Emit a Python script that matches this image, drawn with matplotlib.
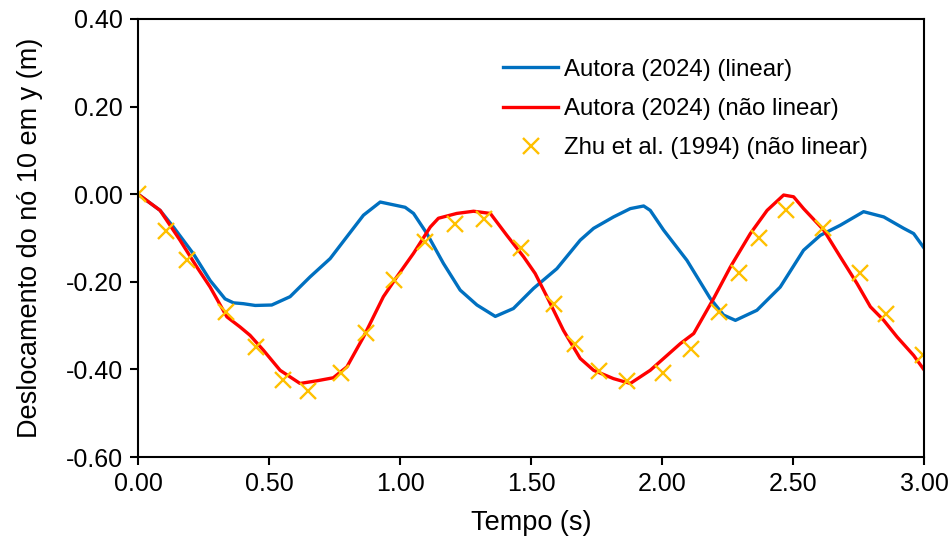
import matplotlib
matplotlib.use("Agg")
import matplotlib.pyplot as plt

plt.rcParams['font.family'] = ['Liberation Sans', 'DejaVu Sans']

# Autora (2024) - linear
t_lin = [0.000, 0.084, 0.135, 0.211, 0.275, 0.332, 0.364, 0.402, 0.447, 0.510,
         0.580, 0.656, 0.733, 0.797, 0.860, 0.924, 1.019, 1.051, 1.102, 1.165,
         1.229, 1.293, 1.363, 1.432, 1.509, 1.598, 1.687, 1.738, 1.814, 1.878,
         1.929, 1.954, 2.005, 2.094, 2.183, 2.234, 2.279, 2.361, 2.450, 2.539,
         2.603, 2.679, 2.768, 2.845, 2.921, 2.959, 3.000]
y_lin = [0.000, -0.037, -0.075, -0.136, -0.197, -0.239, -0.248, -0.250, -0.254, -0.253,
         -0.234, -0.189, -0.147, -0.097, -0.048, -0.018, -0.030, -0.044, -0.090, -0.158,
         -0.219, -0.253, -0.279, -0.261, -0.215, -0.170, -0.105, -0.078, -0.052, -0.033,
         -0.027, -0.037, -0.082, -0.151, -0.238, -0.276, -0.288, -0.265, -0.212, -0.128,
         -0.094, -0.071, -0.040, -0.052, -0.078, -0.090, -0.124]

# Autora (2024) - nao linear
t_nl = [0.000, 0.084, 0.160, 0.224, 0.275, 0.339, 0.389, 0.427, 0.478, 0.542,
        0.618, 0.682, 0.745, 0.797, 0.860, 0.936, 0.987, 1.051, 1.115, 1.146,
        1.216, 1.280, 1.344, 1.407, 1.471, 1.515, 1.560, 1.623, 1.687, 1.738,
        1.814, 1.878, 1.954, 2.005, 2.069, 2.120, 2.196, 2.260, 2.336, 2.400,
        2.463, 2.501, 2.539, 2.616, 2.679, 2.743, 2.794, 2.845, 2.896, 2.959, 3.000]
y_nl = [0.000, -0.037, -0.105, -0.166, -0.212, -0.280, -0.303, -0.322, -0.356, -0.402,
        -0.432, -0.426, -0.419, -0.394, -0.326, -0.234, -0.189, -0.135, -0.075, -0.055,
        -0.044, -0.039, -0.044, -0.094, -0.143, -0.181, -0.234, -0.311, -0.375, -0.402,
        -0.421, -0.432, -0.402, -0.375, -0.341, -0.318, -0.238, -0.166, -0.090, -0.037,
        -0.002, -0.006, -0.033, -0.082, -0.143, -0.204, -0.257, -0.288, -0.326, -0.368, -0.402]

# Zhu et al. (1994)
t_zhu = [0.000, 0.107, 0.188, 0.334, 0.450, 0.554, 0.650, 0.773, 0.870, 0.975,
         1.095, 1.210, 1.321, 1.461, 1.588, 1.668, 1.759, 1.865, 2.003, 2.110,
         2.215, 2.291, 2.370, 2.471, 2.612, 2.756, 2.855, 2.994]
y_zhu = [0.000, -0.085, -0.151, -0.269, -0.349, -0.423, -0.449, -0.408, -0.317, -0.195,
         -0.109, -0.068, -0.056, -0.123, -0.250, -0.341, -0.404, -0.427, -0.408, -0.354,
         -0.268, -0.181, -0.099, -0.036, -0.078, -0.181, -0.273, -0.368]

fig = plt.figure(figsize=(9.52, 5.39), dpi=100)
ax = fig.add_axes([0.145, 0.152, 0.826, 0.813])

ax.plot(t_lin, y_lin, color='#0070C0', lw=2.4, solid_joinstyle='round',
        label='Autora (2024) (linear)')
ax.plot(t_nl, y_nl, color='#FF0000', lw=2.4, solid_joinstyle='round',
        label='Autora (2024) (não linear)')
ax.plot(t_zhu, y_zhu, ls='none', marker='x', ms=11, mew=1.7, color='#FFC000',
        label='Zhu et al. (1994) (não linear)')

ax.set_xlim(0, 3)
ax.set_ylim(-0.6, 0.4)
ax.set_xticks([0, 0.5, 1.0, 1.5, 2.0, 2.5, 3.0])
ax.set_yticks([-0.6, -0.4, -0.2, 0.0, 0.2, 0.4])
ax.xaxis.set_major_formatter(plt.FormatStrFormatter('%.2f'))
ax.yaxis.set_major_formatter(plt.FormatStrFormatter('%.2f'))
ax.tick_params(direction='out', length=6, width=1.5, labelsize=18, pad=5)
for s in ax.spines.values():
    s.set_linewidth(1.5)

ax.set_xlabel('Tempo (s)', fontsize=19.5, labelpad=10)
ax.set_ylabel('Deslocamento do nó 10 em y (m)', fontsize=19.5, labelpad=16)

ax.legend(loc='upper right', bbox_to_anchor=(0.956, 0.958), frameon=False,
          fontsize=17.3, handlelength=2.3, handletextpad=0.25, labelspacing=0.72)

fig.savefig('out.png', dpi=100)
